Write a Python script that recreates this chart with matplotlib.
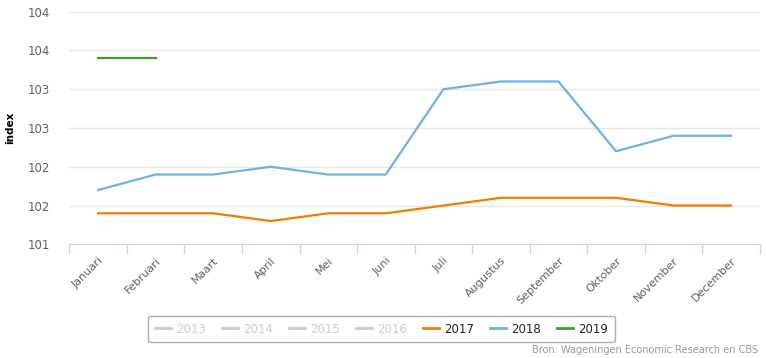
import numpy as np
import matplotlib.pyplot as plt
from matplotlib.lines import Line2D
from matplotlib.ticker import FixedLocator

maanden = ['Januari', 'Februari', 'Maart', 'April', 'Mei', 'Juni', 'Juli',
           'Augustus', 'September', 'Oktober', 'November', 'December']

index_2017 = [101.4, 101.4, 101.4, 101.3, 101.4, 101.4, 101.5, 101.6, 101.6, 101.6, 101.5, 101.5]
index_2018 = [101.7, 101.9, 101.9, 102.0, 101.9, 101.9, 103.0, 103.1, 103.1, 102.2, 102.4, 102.4]
index_2019 = [103.4, 103.4]

y_ticks = [101, 101.5, 102, 102.5, 103, 103.5, 104]
y_labels = ['101', '102', '102', '103', '103', '104', '104']

kleur_2017 = '#f07d00'
kleur_2018 = '#6cb2e2'
kleur_2019 = '#3aa02a'
grijs = '#cccccc'

plt.rcParams['font.family'] = 'DejaVu Sans'

fig = plt.figure(figsize=(7.66, 3.58), dpi=100)
ax = fig.add_axes([0.0905, 0.3176, 0.9015, 0.6497])

x = np.arange(len(maanden))
ax.plot(x, index_2017, color=kleur_2017, lw=1.6, solid_joinstyle='round')
ax.plot(x, index_2018, color=kleur_2018, lw=1.6, solid_joinstyle='round')
ax.plot(x[:len(index_2019)], index_2019, color=kleur_2019, lw=1.6)

ax.set_xlim(-0.5, 11.5)
ax.set_ylim(101, 104)

ax.set_yticks(y_ticks)
ax.set_yticklabels(y_labels, color='#606060', fontsize=8.5)
ax.tick_params(axis='y', length=0, pad=14)
ax.grid(axis='y', color='#e6e6e6', lw=1)
ax.set_axisbelow(True)

ax.set_xticks(x)
ax.set_xticklabels(maanden, rotation=45, ha='right', rotation_mode='anchor',
                   color='#606060', fontsize=8)
ax.tick_params(axis='x', which='major', length=0, pad=8)
ax.xaxis.set_minor_locator(FixedLocator(np.arange(-0.5, 12, 1)))
ax.tick_params(axis='x', which='minor', length=7.5, color='#ccd6eb', width=1)

for s in ['top', 'right', 'left']:
    ax.spines[s].set_visible(False)
ax.spines['bottom'].set_color('#ccd6eb')

ax.set_ylabel('index', fontsize=7.5, fontweight='bold', labelpad=9)

handles = [Line2D([], [], color=grijs, lw=2) for _ in range(4)]
handles += [Line2D([], [], color=kleur_2017, lw=2),
            Line2D([], [], color=kleur_2018, lw=2),
            Line2D([], [], color=kleur_2019, lw=2)]
labels = ['2013', '2014', '2015', '2016', '2017', '2018', '2019']
leg = fig.legend(handles, labels, loc='center', bbox_to_anchor=(0.498, 0.081),
                 ncol=7, fontsize=8.5, frameon=True, fancybox=True,
                 handlelength=1.35, handletextpad=0.45, columnspacing=1.35,
                 borderpad=0.55, edgecolor='#999999')
leg.get_frame().set_linewidth(1)
for t, lab in zip(leg.get_texts(), labels):
    if lab in ('2017', '2018', '2019'):
        t.set_color('#222222')
    else:
        t.set_color(grijs)

fig.text(0.99, 0.008, 'Bron: Wageningen Economic Research en CBS',
         ha='right', va='bottom', fontsize=7, color='#999999')

fig.savefig('out.png', dpi=100)
